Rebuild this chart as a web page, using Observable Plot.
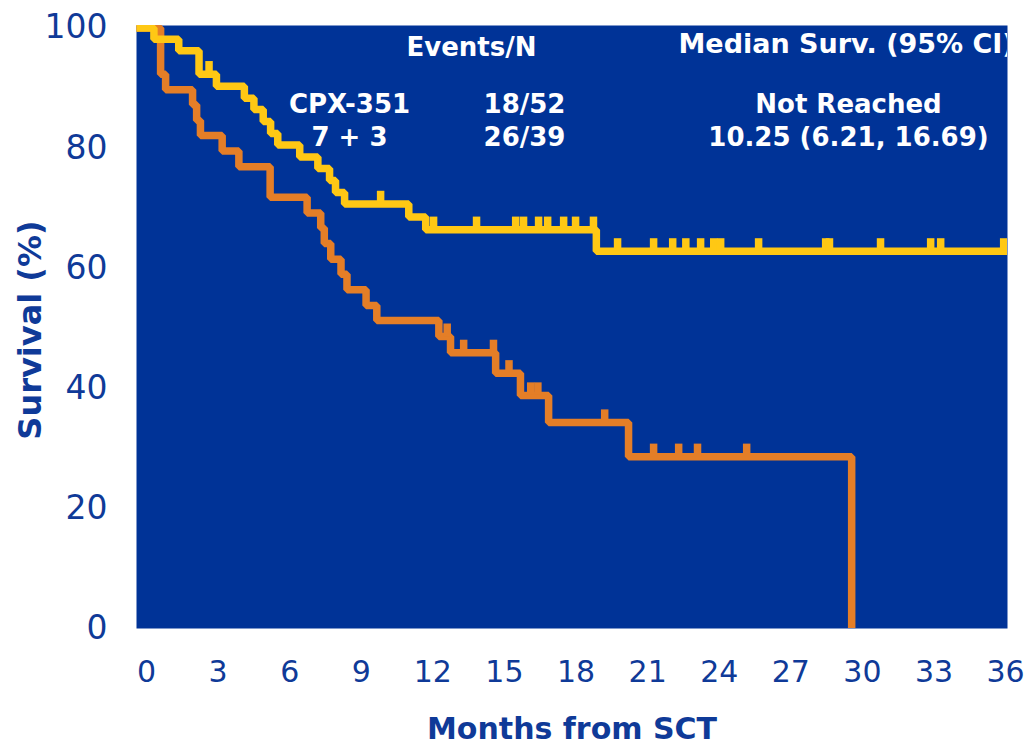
<!DOCTYPE html>
<html>
<head>
<meta charset="utf-8">
<script src="https://cdn.jsdelivr.net/npm/d3@7"></script>
<script src="https://cdn.jsdelivr.net/npm/@observablehq/plot@0.6"></script>
<style>
  body { margin: 0; background: #ffffff; }
  svg { display: block; }
</style>
</head>
<body>
<div id="chart"></div>
<script>
// ---- Data ----
// CPX-351 arm (yellow): step times (months) and survival (%)
const cpxTime = [0, 0.31, 1.35, 2.2, 2.93, 4.1, 4.5, 4.89, 5.2, 5.5, 6.42, 7.18, 7.67, 7.92, 8.3, 10.99, 11.7, 18.85, 36.08];
const cpxSurv = [100, 98.1, 96.2, 92.3, 90.3, 88.3, 86.4, 84.4, 82.4, 80.5, 78.5, 76.6, 74.6, 72.6, 70.7, 68.5, 66.4, 62.8, 62.8];
const cpxCensor = [2.62, 9.81, 12.03, 13.83, 15.47, 15.8, 16.43, 16.81, 17.48, 17.98, 18.73, 19.74, 21.25, 22.05, 22.6, 23.22, 23.77, 24.06, 25.65, 28.46, 28.62, 30.76, 32.86, 33.28, 35.92];

// 7 + 3 arm (orange)
const ctlTime = [0, 0.59, 0.8, 1.93, 2.1, 2.26, 3.17, 3.87, 5.18, 6.73, 7.3, 7.45, 7.72, 8.15, 8.4, 9.2, 9.65, 12.25, 12.74, 14.63, 15.67, 16.85, 20.2, 29.55];
const ctlSurv = [100, 92.3, 89.7, 87.2, 84.6, 82.1, 79.5, 76.9, 71.8, 69.2, 66.7, 64.1, 61.5, 59.0, 56.4, 53.8, 51.3, 48.6, 45.9, 42.5, 38.8, 34.3, 28.6, 0];
const ctlCensor = [12.6, 13.29, 14.54, 15.19, 16.1, 16.4, 19.2, 21.25, 22.3, 23.09, 25.15];

// Tick labels
const xTicks = [0, 3, 6, 9, 12, 15, 18, 21, 24, 27, 30, 33, 36];
const yTicks = [0, 20, 40, 60, 80, 100];

// Table text
const armNames = ["CPX-351", "7 + 3"];
const eventsN = ["18/52", "26/39"];
const medianSurv = ["Not Reached", "10.25 (6.21, 16.69)"];
const headEvents = "Events/N";
const headMedian = "Median Surv. (95% CI)";
const xTitle = "Months from SCT";
const yTitle = "Survival (%)";

// ---- Styling ----
const BLUE = "#003397";
const YELLOW = "#FFC814";
const ORANGE = "#E47E27";
const INK = "#0f3a98";
const FONT = "DejaVu Sans";
const xDomain = [-0.42, 36.08];

function survAt(times, surv, t) {
  let s = surv[0];
  for (let i = 0; i < times.length; i++) if (times[i] <= t) s = surv[i];
  return s;
}
function curveRows(times, surv) {
  return times.map((t, i) => ({t: i === 0 ? xDomain[0] : t, s: surv[i]}));
}
function censorRows(cens, times, surv) {
  return cens.map(t => ({t, s: survAt(times, surv, t)}));
}

const textStyle = {fill: "white", fontWeight: "bold", fontSize: 26, fontFamily: FONT};

const chart = Plot.plot({
  width: 1027,
  height: 746,
  marginLeft: 136,
  marginRight: 20,
  marginTop: 25,
  marginBottom: 118,
  style: {fontFamily: FONT, fontSize: "30px", color: INK, background: "white", overflow: "visible"},
  x: {domain: xDomain},
  y: {domain: [0, 100.4]},
  marks: [
    Plot.frame({fill: BLUE, stroke: "none"}),
    Plot.axisX({ticks: xTicks, tickSize: 0, tickPadding: 32, fontSize: 30, label: null}),
    Plot.axisY({ticks: yTicks, tickSize: 0, tickPadding: 29, fontSize: 33, label: null}),
    Plot.line(curveRows(ctlTime, ctlSurv), {x: "t", y: "s", curve: "step-after", stroke: ORANGE, strokeWidth: 7.5, strokeLinejoin: "miter", strokeLinecap: "butt", clip: true}),
    Plot.ruleX(censorRows(ctlCensor, ctlTime, ctlSurv), {x: "t", y1: "s", y2: d => d.s + 2.1, stroke: ORANGE, strokeWidth: 7.5, clip: true}),
    Plot.line(curveRows(cpxTime, cpxSurv), {x: "t", y: "s", curve: "step-after", stroke: YELLOW, strokeWidth: 7.5, strokeLinejoin: "miter", strokeLinecap: "butt", clip: true}),
    Plot.ruleX(censorRows(cpxCensor, cpxTime, cpxSurv), {x: "t", y1: "s", y2: d => d.s + 2.1, stroke: YELLOW, strokeWidth: 7.5, clip: true}),
    // table
    Plot.text([headEvents], {text: d => d, frameAnchor: "top-left", dx: 335, dy: 22, textAnchor: "middle", lineAnchor: "middle", ...textStyle}),
    Plot.text([headMedian], {text: d => d, frameAnchor: "top-left", dx: 542, dy: 19, textAnchor: "start", lineAnchor: "middle", clip: true, ...textStyle, fontSize: 27}),
    Plot.text([armNames.join("\n")], {text: d => d, frameAnchor: "top-left", dx: 213, dy: 93.5, textAnchor: "middle", lineAnchor: "middle", lineHeight: 1.27, ...textStyle}),
    Plot.text([eventsN.join("\n")], {text: d => d, frameAnchor: "top-left", dx: 388, dy: 93.5, textAnchor: "middle", lineAnchor: "middle", lineHeight: 1.27, ...textStyle}),
    Plot.text([medianSurv.join("\n")], {text: d => d, frameAnchor: "top-left", dx: 712, dy: 93.5, textAnchor: "middle", lineAnchor: "middle", lineHeight: 1.27, ...textStyle}),
    // axis titles
    Plot.text([yTitle], {text: d => d, frameAnchor: "left", dx: -106, dy: 3, rotate: -90, textAnchor: "middle", lineAnchor: "middle", fill: INK, fontWeight: "bold", fontSize: 32, fontFamily: FONT}),
    Plot.text([xTitle], {text: d => d, frameAnchor: "bottom", dy: 101, textAnchor: "middle", lineAnchor: "middle", fill: INK, fontWeight: "bold", fontSize: 30, fontFamily: FONT})
  ]
});
document.getElementById("chart").appendChild(chart);
</script>
</body>
</html>
